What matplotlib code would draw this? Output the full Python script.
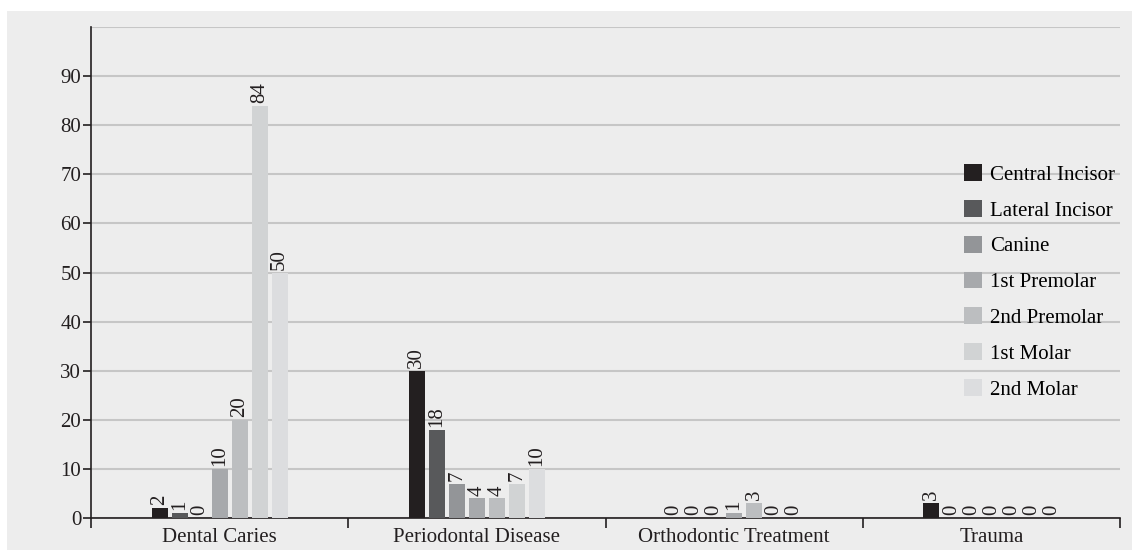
import numpy as np
import matplotlib.pyplot as plt
from matplotlib.patches import Rectangle

plt.rcParams['font.family'] = ['Liberation Serif', 'DejaVu Serif']

conditions = ["Dental Caries", "Periodontal Disease", "Orthodontic Treatment", "Trauma"]
teeth = ["Central Incisor", "Lateral Incisor", "Canine", "1st Premolar",
         "2nd Premolar", "1st Molar", "2nd Molar"]
central_incisor = [2, 30, 0, 3]
lateral_incisor = [1, 18, 0, 0]
canine = [0, 7, 0, 0]
first_premolar = [10, 4, 1, 0]
second_premolar = [20, 4, 3, 0]
first_molar = [84, 7, 0, 0]
second_molar = [50, 10, 0, 0]
series = [central_incisor, lateral_incisor, canine, first_premolar,
          second_premolar, first_molar, second_molar]
colors = ["#231f20", "#58595b", "#939598", "#a7a9ac", "#bcbec0", "#d1d3d4", "#dcdddf"]

bg = "#ededed"
fs = 15
fig = plt.figure(figsize=(11.32, 5.5), dpi=100)
fig.patches.append(Rectangle((7 / 1132, 0), 1, 1 - 11 / 550, transform=fig.transFigure,
                             facecolor=bg, edgecolor="none", zorder=-10))
ax = fig.add_axes([91 / 1132, 32 / 550, (1120 - 91) / 1132, 491 / 550])
ax.set_facecolor(bg)

x = np.arange(len(conditions))
step = 0.0778
width = 0.0623
for i, (vals, name, c) in enumerate(zip(series, teeth, colors)):
    bars = ax.bar(x + (i - 3) * step, vals, width, color=c, label=name, zorder=3)
    ax.bar_label(bars, labels=[str(v) for v in vals], rotation=90, padding=2,
                 fontsize=fs, color="#231f20")

ax.set_xlim(-0.5, len(conditions) - 0.5)
ax.set_ylim(0, 100)
ax.set_yticks(np.arange(0, 100, 10))
ax.yaxis.grid(True, color="#c6c6c6", linewidth=1.5, zorder=0)
ax.axhline(100, color="#c6c6c6", linewidth=1.5, zorder=0)

ax.set_xticks(x)
ax.set_xticklabels(conditions)
ax.set_xticks(np.arange(-0.5, len(conditions), 1), minor=True)
ax.tick_params(axis="x", which="major", length=0, labelsize=fs, pad=7, colors="#231f20")
ax.tick_params(axis="x", which="minor", length=7, width=1.2, direction="out", color="#231f20")
ax.tick_params(axis="y", length=6, width=1.2, labelsize=fs, pad=1, colors="#231f20")

for side in ["top", "right"]:
    ax.spines[side].set_visible(False)
for side in ["left", "bottom"]:
    ax.spines[side].set_color("#231f20")
    ax.spines[side].set_linewidth(1.2)

ax.legend(loc="upper left", bbox_to_anchor=((964 - 91) / 1029, (518 - 164) / 491),
          frameon=False, fontsize=fs, handlelength=0.87, handleheight=0.87,
          handletextpad=0.38, labelspacing=0.73, borderaxespad=0, borderpad=0)

fig.savefig("out.png", dpi=100, facecolor="white")
